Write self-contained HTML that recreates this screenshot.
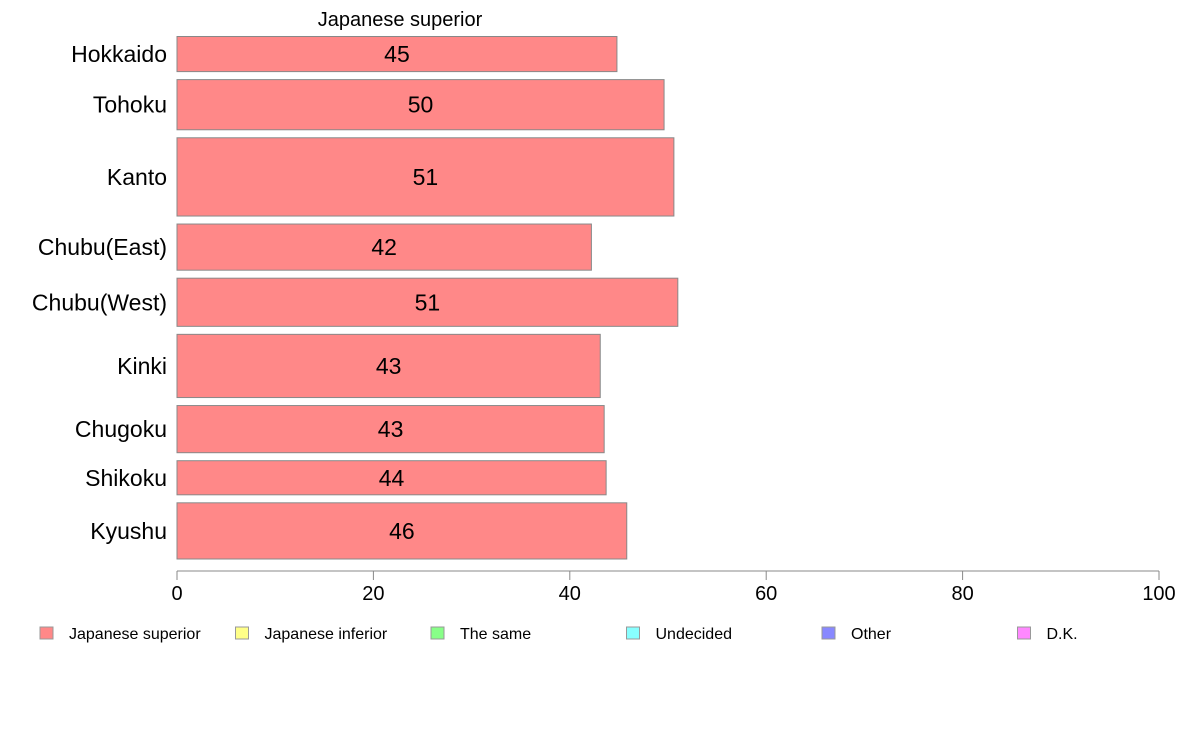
<!DOCTYPE html>
<html><head><meta charset="utf-8"><style>
body{margin:0;background:#fff;}
svg{display:block;font-family:"Liberation Sans",Arial,sans-serif;}
</style></head><body>
<svg id="chart" width="1188" height="736"></svg>
<script>
const categories=["Hokkaido","Tohoku","Kanto","Chubu(East)","Chubu(West)","Kinki","Chugoku","Shikoku","Kyushu"];
const values=[44.8,49.6,50.6,42.2,51.0,43.1,43.5,43.7,45.8];
const labels=["45","50","51","42","51","43","43","44","46"];
const weights=[35,50,78,46,48,63,47,34,56];
const ticks=[0,20,40,60,80,100];
const legendItems=["Japanese superior","Japanese inferior","The same","Undecided","Other","D.K."];
const legendColors=["#ff8888","#ffff88","#88ff88","#88ffff","#8888ff","#ff88ff"];

const NS="http://www.w3.org/2000/svg";
const svg=document.getElementById('chart');
function mk(tag,attrs,parent){const e=document.createElementNS(NS,tag);for(const k in attrs)e.setAttribute(k,attrs[k]);(parent||svg).appendChild(e);return e;}
const x0=177,x1=1159;
const xs=v=>x0+(v/100)*(x1-x0);
const plotTop=36.5,plotBottom=559,gap=8;
const totalW=weights.reduce((a,b)=>a+b,0);
const unit=(plotBottom-plotTop-gap*(weights.length-1))/totalW;

const t=mk('text',{x:400,y:26,'text-anchor':'middle','font-size':20,fill:'#000'});


t.textContent="Japanese superior";

let yy=plotTop;
categories.forEach((c,i)=>{
  const h=weights[i]*unit;
  const r=mk('rect',{x:x0,y:yy,width:xs(values[i])-x0,height:h,fill:'#ff8888',stroke:'#888','stroke-width':1});
  
  
  const lt=mk('text',{x:xs(values[i]/2),y:yy+h/2+8,'text-anchor':'middle','font-size':23,fill:'#000'});
  
  
  lt.textContent=labels[i];
  const ct=mk('text',{x:167,y:yy+h/2+8,'text-anchor':'end','font-size':23,fill:'#000'});
  
  
  ct.textContent=c;
  yy+=h+gap;
});

const ax=mk('line',{x1:x0,x2:x1,y1:571,y2:571,stroke:'#888','stroke-width':1});


ticks.forEach(v=>{
  const tl=mk('line',{x1:xs(v),x2:xs(v),y1:571,y2:580,stroke:'#888','stroke-width':1});
  
  
  const tt=mk('text',{x:xs(v),y:600,'text-anchor':'middle','font-size':20,fill:'#000'});
  
  
  tt.textContent=v;
});

legendItems.forEach((n,i)=>{
  const lx=40+i*195.5;
  const g=mk('g',{});
  
  
  mk('rect',{x:lx,y:627,width:13,height:12,fill:legendColors[i],stroke:'#999','stroke-width':1},g);
  const lt=mk('text',{x:lx+29,y:639,'font-size':16,fill:'#000'},g);
  lt.textContent=n;
});
</script>
</body></html>
